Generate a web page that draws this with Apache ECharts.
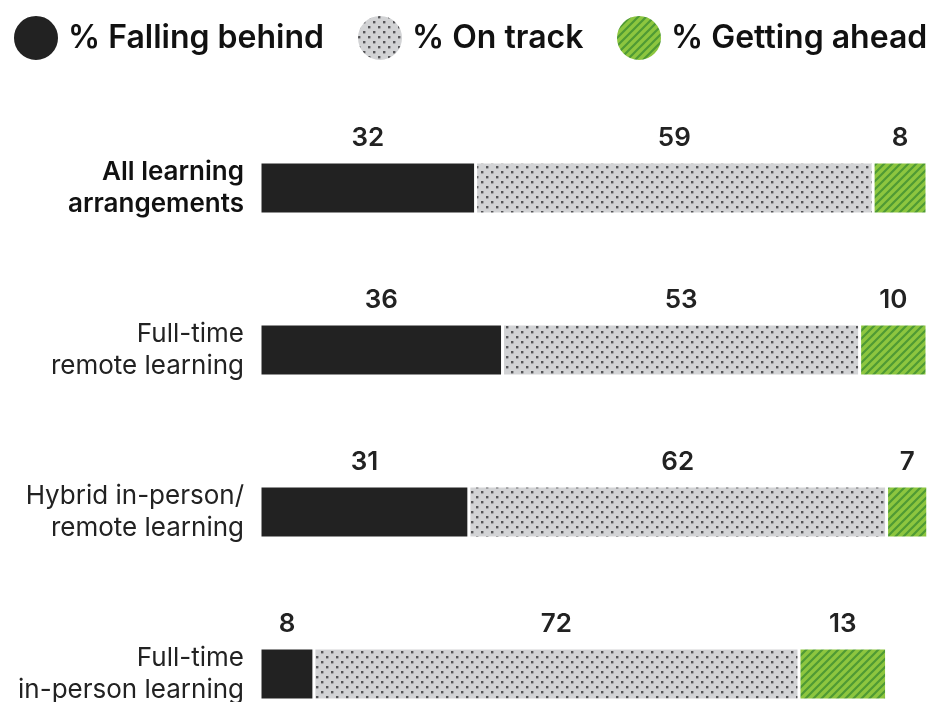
<!DOCTYPE html>
<html>
<head>
<meta charset="utf-8">
<script src="https://cdn.jsdelivr.net/npm/echarts@6/dist/echarts.min.js"></script>
<style>
  html, body { margin: 0; padding: 0; background: #fff; }
  #main { width: 927px; height: 702px; }
</style>
</head>
<body>
<div id="main"></div>
<script>
var categories = ['All learning\narrangements', 'Full-time\nremote learning', 'Hybrid in-person/\nremote learning', 'Full-time\nin-person learning'];
var seriesNames = ['% Falling behind', '% On track', '% Getting ahead'];
var fallingBehind = [32, 36, 31, 8];
var onTrack = [59, 53, 62, 72];
var gettingAhead = [8, 10, 7, 13];

var fontName = 'Inter';

// dotted grey pattern
function dotPattern() {
    var c = document.createElement('canvas');
    c.width = 10; c.height = 10;
    var ctx = c.getContext('2d');
    ctx.fillStyle = '#d2d3d5';
    ctx.fillRect(0, 0, 10, 10);
    ctx.fillStyle = '#555558';
    ctx.fillRect(1, 1, 2.4, 2.4);
    ctx.fillRect(6, 6, 2.4, 2.4);
    return c;
}

// green diagonal stripes
function stripePattern() {
    var s = 8;
    var c = document.createElement('canvas');
    c.width = s; c.height = s;
    var ctx = c.getContext('2d');
    ctx.fillStyle = '#8dc63f';
    ctx.fillRect(0, 0, s, s);
    ctx.strokeStyle = '#4f9a34';
    ctx.lineWidth = 2.2;
    ctx.beginPath();
    ctx.moveTo(-2, s + 2); ctx.lineTo(s + 2, -2);
    ctx.moveTo(-2, 2); ctx.lineTo(2, -2);
    ctx.moveTo(s - 2, s + 2); ctx.lineTo(s + 2, s - 2);
    ctx.stroke();
    return c;
}

var myChart = echarts.init(document.getElementById('main'));

var labelStyle = {
    show: true,
    position: 'top',
    distance: 11,
    color: '#222',
    fontSize: 26,
    fontWeight: 600,
    fontFamily: fontName
};

function makeSeries(name, data, color) {
    return {
        name: name,
        type: 'bar',
        stack: 'total',
        barWidth: 52,
        data: data,
        itemStyle: { color: color, borderColor: '#fff', borderWidth: 1.5 },
        label: labelStyle
    };
}

// one legend per item so they sit where the original put them
var legendLeft = [12, 356, 615];
function makeLegend(i) {
    return {
        top: 14,
        left: legendLeft[i],
        padding: 0,
        icon: 'circle',
        itemWidth: 46,
        itemHeight: 46,
        textStyle: { fontSize: 32, fontWeight: 600, color: '#111', fontFamily: fontName, padding: [0, 0, 0, 4] },
        data: [seriesNames[i]]
    };
}

var option = {
    animation: false,
    legend: [makeLegend(0), makeLegend(1), makeLegend(2)],
    grid: {
        left: 260,
        top: 107,
        width: 667,
        height: 648,
        outerBoundsMode: 'none',
        containLabel: false
    },
    xAxis: {
        type: 'value',
        min: 0,
        max: 99,
        show: false
    },
    yAxis: {
        type: 'category',
        inverse: true,
        data: categories,
        axisLine: { show: false },
        axisTick: { show: false },
        axisLabel: {
            margin: 16,
            fontSize: 26,
            lineHeight: 32,
            color: '#222',
            fontFamily: fontName,
            formatter: function (v, i) {
                return i === 0 ? '{b|' + v.split('\n').join('}\n{b|') + '}' : v;
            },
            rich: {
                b: { fontWeight: 600, fontSize: 26, lineHeight: 32, color: '#111', fontFamily: fontName }
            }
        }
    },
    series: [
        makeSeries(seriesNames[0], fallingBehind, '#222222'),
        makeSeries(seriesNames[1], onTrack, { image: dotPattern(), repeat: 'repeat' }),
        makeSeries(seriesNames[2], gettingAhead, { image: stripePattern(), repeat: 'repeat' })
    ]
};

myChart.setOption(option);
</script>
</body>
</html>
